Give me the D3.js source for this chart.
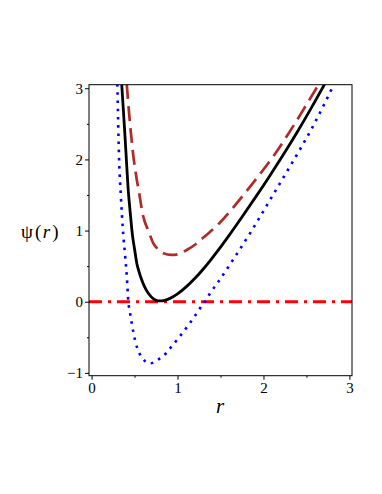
<!DOCTYPE html>
<html><head><meta charset="utf-8">
<script src="https://cdn.jsdelivr.net/npm/d3@7"></script>
<style>body{margin:0;background:#fff}svg{display:block}</style>
</head><body>
<svg id="c" width="382" height="494"></svg>
<script>
// Data
const blackR   = [0.351,0.38,0.40,0.424,0.45,0.474,0.50,0.526,0.555,0.584,0.62,0.66,0.72,0.78,0.85,0.913,1.0,1.107,1.2,1.3,1.378,1.474,1.6,1.75,1.92,2.08,2.23,2.4,2.55,2.72];
const blackPsi = [3.05,2.5,2.1,1.61,1.25,0.95,0.74,0.54,0.41,0.305,0.2,0.118,0.04,0.012,0.02,0.047,0.11,0.215,0.325,0.46,0.575,0.724,0.932,1.19,1.491,1.782,2.064,2.399,2.71,3.076];
const brownR   = [0.409,0.44,0.486,0.52,0.556,0.595,0.62,0.66,0.719,0.78,0.835,0.93,1.0,1.107,1.203,1.264,1.358,1.5,1.649,1.8,1.96,2.13,2.3,2.47,2.63];
const brownPsi = [3.06,2.6,2.05,1.76,1.51,1.23,1.12,1.0,0.82,0.73,0.68,0.657,0.665,0.727,0.80,0.865,0.96,1.12,1.327,1.55,1.795,2.07,2.38,2.71,3.03];
const blueR    = [0.30,0.32,0.34,0.365,0.39,0.41,0.428,0.447,0.467,0.506,0.533,0.572,0.61,0.642,0.69,0.738,0.78,0.828,0.913,1.03,1.15,1.223,1.28,1.32,1.378,1.463,1.63,1.863,2.13,2.347,2.56,2.81];
const bluePsi  = [3.06,2.0,1.5,1.0,0.65,0.35,0.0,-0.15,-0.30,-0.54,-0.655,-0.76,-0.82,-0.857,-0.865,-0.843,-0.81,-0.773,-0.655,-0.482,-0.29,-0.163,-0.06,0.0,0.118,0.26,0.56,1.0,1.54,1.98,2.43,3.03];
const zeroR    = [-0.03,3.03];
const zeroPsi  = [0,0];
const xTicks = [0,1,2,3];
const xMinor = [0.5,1.5,2.5];
const yTicks = [-1,0,1,2,3];
const yMinor = [-0.5,0.5,1.5,2.5];

const svg = d3.select("#c");
const x = d3.scaleLinear().domain([-0.03,3.03]).range([89,352]);
const y = d3.scaleLinear().domain([-1.04,3.05]).range([375.7,84.7]);
const font = "'Liberation Serif','Times New Roman',serif";

svg.append("defs").append("clipPath").attr("id","clip")
  .append("rect").attr("x",89).attr("y",84.7).attr("width",263).attr("height",291);

const g = svg.append("g").attr("clip-path","url(#clip)");
const line = d3.line().x(d=>x(d[0])).y(d=>y(d[1])).curve(d3.curveMonotoneX);
const zip = (a,b)=>a.map((v,i)=>[v,b[i]]);

g.append("path").datum(zip(zeroR,zeroPsi)).attr("d",d3.line().x(d=>x(d[0])).y(d=>y(d[1])))
  .attr("fill","none").attr("stroke","#ff0000").attr("stroke-width",3).attr("stroke-dasharray","13,6,3,6");
g.append("path").datum(zip(brownR,brownPsi)).attr("d",line)
  .attr("fill","none").attr("stroke","#b02a2a").attr("stroke-width",2.7).attr("stroke-dasharray","15,7");
g.append("path").datum(zip(blueR,bluePsi)).attr("d",line)
  .attr("fill","none").attr("stroke","#0000ff").attr("stroke-width",2.6).attr("stroke-dasharray","2.6,5.6");
g.append("path").datum(zip(blackR,blackPsi)).attr("d",line)
  .attr("fill","none").attr("stroke","#000").attr("stroke-width",2.8);

// box
svg.append("rect").attr("x",89).attr("y",84.7).attr("width",263).attr("height",291)
  .attr("fill","none").attr("stroke","#000").attr("stroke-width",1);

// axes
const xa = svg.append("g").attr("transform","translate(0,375.7)");
xa.call(d3.axisBottom(x).tickValues(xTicks).tickSize(4).tickPadding(3).tickFormat(d3.format("d")));
xa.append("g").call(d3.axisBottom(x).tickValues(xMinor).tickSize(2).tickFormat(""));
const ya = svg.append("g").attr("transform","translate(89,0)");
ya.call(d3.axisLeft(y).tickValues(yTicks).tickSize(4).tickPadding(2).tickFormat(d=>d<0?"\u2212"+Math.abs(d):d));
ya.append("g").call(d3.axisLeft(y).tickValues(yMinor).tickSize(2).tickFormat(""));
svg.selectAll(".domain").remove();
svg.selectAll(".tick line").attr("stroke","#000");
svg.selectAll(".tick text").attr("font-family",font).attr("font-size",15).attr("fill","#000");

// labels
svg.append("text").attr("x",220).attr("y",413).attr("text-anchor","middle")
  .attr("font-family",font).attr("font-style","italic").attr("font-size",21).text("r");
const yl = svg.append("text").attr("x",21).attr("y",238)
  .attr("font-family",font).attr("font-size",19);
yl.append("tspan").text("\u03c8");
yl.append("tspan").attr("dx",2).text("(");
yl.append("tspan").attr("dx",1.5).attr("font-style","italic").text("r");
yl.append("tspan").attr("dx",2).text(")");
</script>
</body></html>
